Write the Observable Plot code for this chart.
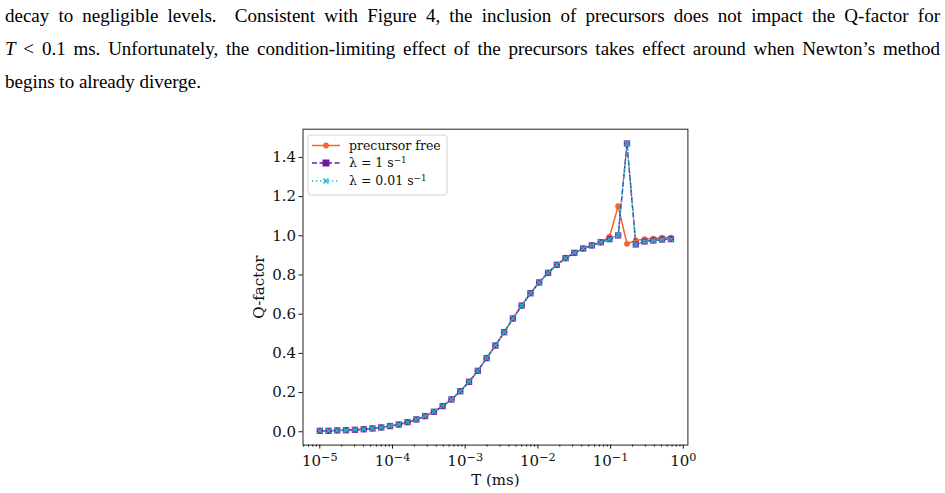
<!DOCTYPE html>
<html><head><meta charset="utf-8">
<script src="https://cdn.jsdelivr.net/npm/d3@7"></script>
<script src="https://cdn.jsdelivr.net/npm/@observablehq/plot@0.6"></script>
<style>
body{margin:0;background:#fff;width:945px;height:493px;overflow:hidden;position:relative;}
#para{position:absolute;left:5px;top:-1.4px;width:935px;font-family:"Liberation Serif","Times New Roman",serif;font-size:19px;color:#000;}
.ln{height:33.3px;line-height:33.3px;white-space:nowrap;}
.j{text-align:justify;text-align-last:justify;}
#chart{position:absolute;left:0;top:100px;}
</style></head><body>
<div id="para">
<div class="ln j">decay to negligible levels.&nbsp; Consistent with Figure 4, the inclusion of precursors does not impact the Q-factor for</div>
<div class="ln j"><i>T</i> &lt; 0.1 ms. Unfortunately, the condition-limiting effect of the precursors takes effect around when Newton’s method</div>
<div class="ln">begins to already diverge.</div>
</div>
<div id="chart"></div>
<script>
const T = [1.00e-5, 1.32e-5, 1.74e-5, 2.30e-5, 3.04e-5, 4.02e-5, 5.30e-5, 7.00e-5, 9.24e-5, 1.22e-4,
  1.61e-4, 2.13e-4, 2.81e-4, 3.71e-4, 4.90e-4, 6.47e-4, 8.55e-4, 1.13e-3, 1.49e-3, 1.97e-3,
  2.60e-3, 3.43e-3, 4.53e-3, 5.98e-3, 7.90e-3, 1.04e-2, 1.38e-2, 1.82e-2, 2.40e-2, 3.17e-2,
  4.19e-2, 5.53e-2, 7.31e-2, 9.65e-2, 1.27e-1, 1.68e-1, 2.22e-1, 2.93e-1, 3.87e-1, 5.11e-1, 6.76e-1];
const qFree = [0.005,0.005,0.007,0.008,0.010,0.013,0.017,0.022,0.029,0.037,
  0.049,0.063,0.080,0.102,0.131,0.165,0.207,0.255,0.311,0.376,
  0.440,0.508,0.578,0.644,0.707,0.762,0.811,0.852,0.886,0.913,
  0.935,0.951,0.967,0.996,1.151,0.959,0.976,0.983,0.986,0.990,0.991];
const qLam1 = [0.005,0.005,0.007,0.008,0.010,0.013,0.017,0.022,0.029,0.037,
  0.049,0.063,0.080,0.102,0.131,0.165,0.207,0.255,0.311,0.376,
  0.440,0.508,0.578,0.644,0.707,0.762,0.811,0.852,0.886,0.913,
  0.935,0.951,0.967,0.983,1.002,1.471,0.956,0.971,0.976,0.981,0.983];
const qLam001 = [0.005,0.005,0.007,0.008,0.010,0.013,0.017,0.022,0.029,0.037,
  0.049,0.063,0.080,0.102,0.131,0.165,0.207,0.255,0.311,0.376,
  0.440,0.508,0.578,0.644,0.707,0.762,0.811,0.852,0.886,0.913,
  0.935,0.951,0.967,0.983,1.002,1.471,0.956,0.971,0.976,0.981,0.983];
const seriesNames = ["precursor free", "λ = 1 s", "λ = 0.01 s"];
const seriesSup = ["", "−1", "−1"];
const yTicks = [0, 0.2, 0.4, 0.6, 0.8, 1.0, 1.2, 1.4];
const xTicks = [1e-5, 1e-4, 1e-3, 1e-2, 1e-1, 1];
const xTickBase = "10";
const xTickExp = ["−5", "−4", "−3", "−2", "−1", "0"];
const minorTicks = [6e-6,7e-6,8e-6,9e-6,
  2e-5,3e-5,4e-5,5e-5,6e-5,7e-5,8e-5,9e-5,
  2e-4,3e-4,4e-4,5e-4,6e-4,7e-4,8e-4,9e-4,
  2e-3,3e-3,4e-3,5e-3,6e-3,7e-3,8e-3,9e-3,
  2e-2,3e-2,4e-2,5e-2,6e-2,7e-2,8e-2,9e-2,
  2e-1,3e-1,4e-1,5e-1,6e-1,7e-1,8e-1,9e-1];

const orange = "#f5642d", purple = "#6a1b9a", teal = "#1fb8c4";
const rows = arr => T.map((t, i) => ({t, q: arr[i]}));
const dFree = rows(qFree), dL1 = rows(qLam1), dL2 = rows(qLam001);
const labelFor = d => xTickBase + "^" + xTickExp[xTicks.indexOf(d)];

const chart = Plot.plot({
  width: 945, height: 393,
  marginTop: 28.7, marginBottom: 48.4, marginLeft: 302.5, marginRight: 257.6,
  style: {fontFamily: "'DejaVu Serif', serif", fontSize: "15px", color: "#111", background: "transparent"},
  x: {type: "log", domain: [Math.pow(10, -5.231), Math.pow(10, 0.063)]},
  y: {domain: [-0.068, 1.544]},
  marks: [
    Plot.axisY({ticks: yTicks, tickFormat: d => d.toFixed(1), tickSize: 4, tickPadding: 3,
      label: "Q-factor", labelAnchor: "center", labelOffset: 50, labelArrow: "none"}),
    Plot.axisX({ticks: xTicks, tickFormat: labelFor, tickSize: 4, tickPadding: 6,
      label: "T (ms)", labelAnchor: "center", labelOffset: 40, labelArrow: "none"}),
    Plot.axisX({ticks: minorTicks, tickFormat: () => "", tickSize: 2, label: null}),
    Plot.line(dFree, {x: "t", y: "q", stroke: orange, strokeWidth: 1.5}),
    Plot.dot(dFree, {x: "t", y: "q", r: 2.9, fill: orange}),
    Plot.line(dL1, {x: "t", y: "q", stroke: purple, strokeWidth: 1.5, strokeDasharray: "5,2.5"}),
    Plot.dot(dL1, {x: "t", y: "q", symbol: "square", r: 3.6, fill: purple, fillOpacity: 0.85}),
    Plot.line(dL2, {x: "t", y: "q", stroke: teal, strokeWidth: 1.3, strokeDasharray: "1.3,2.7"}),
    Plot.dot(dL2, {x: "t", y: "q", symbol: "times", r: 2.2, stroke: teal, strokeWidth: 1.3}),
    Plot.frame({stroke: "#222", strokeWidth: 1})
  ]
});
document.getElementById("chart").appendChild(chart);

const svg = d3.select(chart);
// render x tick labels as 10 with a raised exponent
svg.selectAll('g[aria-label="x-axis tick label"] text').each(function() {
  const s = this.textContent;
  if (!s.includes("^")) return;
  const [b, e] = s.split("^");
  const t = d3.select(this);
  t.text(null);
  t.append("tspan").text(b);
  t.append("tspan").attr("dy", "-0.42em").attr("font-size", "0.75em").text(e);
});

// legend
const lg = svg.append("g").attr("font-family", "'DejaVu Serif', serif").attr("font-size", 12.5).attr("text-anchor", "start");
lg.append("rect").attr("x", 308).attr("y", 35).attr("width", 139).attr("height", 60)
  .attr("rx", 3).attr("fill", "#fff").attr("fill-opacity", 0.85).attr("stroke", "#d3d3d3");
const entries = [
  {color: orange, dash: null, sym: "circle", y: 45.5},
  {color: purple, dash: "5,2.5", sym: "square", y: 63},
  {color: teal, dash: "1.3,2.7", sym: "times", y: 81}
];
entries.forEach((e, i) => {
  lg.append("line").attr("x1", 312).attr("x2", 340).attr("y1", e.y).attr("y2", e.y)
    .attr("stroke", e.color).attr("stroke-width", 1.5).attr("stroke-dasharray", e.dash);
  if (e.sym === "circle") lg.append("circle").attr("cx", 326).attr("cy", e.y).attr("r", 2.9).attr("fill", e.color);
  else if (e.sym === "square") lg.append("rect").attr("x", 322.5).attr("y", e.y - 3.5).attr("width", 7).attr("height", 7).attr("fill", e.color);
  else lg.append("path").attr("d", `M${323.5},${e.y-2.5}L${328.5},${e.y+2.5}M${323.5},${e.y+2.5}L${328.5},${e.y-2.5}`)
    .attr("stroke", e.color).attr("stroke-width", 1.5);
  const t = lg.append("text").attr("x", 349).attr("y", e.y).attr("dy", "0.35em").attr("fill", "#111");
  t.append("tspan").text(seriesNames[i]);
  if (seriesSup[i]) t.append("tspan").attr("dy", "-0.45em").attr("font-size", "0.7em").text(seriesSup[i]);
});
</script>
</body></html>
